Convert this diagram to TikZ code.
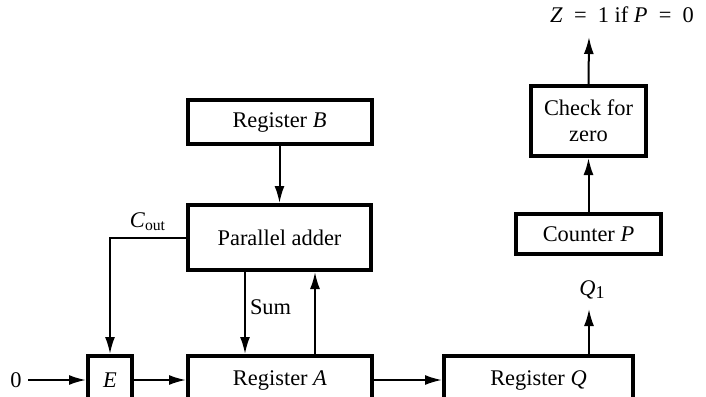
\documentclass[tikz,border=0pt]{standalone}
\usepackage{fontspec}
\setmainfont{Liberation Serif}
\usetikzlibrary{arrows.meta}

\begin{document}
\begin{tikzpicture}[
  x=0.5pt,y=-0.5pt,
  every node/.style={inner sep=1pt,font=\fontsize{11.2}{13}\selectfont},
  reg/.style={rectangle,draw=black,line width=2pt,inner sep=0pt,align=center},
  arr/.style={-{Latex[length=8.5pt,width=5pt]},line width=1pt},
  lbl/.style={inner sep=0pt}
]
\path[use as bounding box] (0,0) rectangle (706,396);
\clip (0,0) rectangle (706,396);
% ================= adder side =================
\node[reg,minimum width=92pt,minimum height=22pt] (regB) at (279.5,122) {Register \textit{B}};
\node[reg,minimum width=91.5pt,minimum height=32.5pt] (adder) at (279.5,237.5) {Parallel adder};
\node[reg,minimum width=92pt,minimum height=24pt] (regA) at (280,380) {Register \textit{A}};
\node[reg,minimum width=22pt,minimum height=24pt] (E) at (110,380) {\textit{E}};
\node[inner sep=3pt] (zero) at (16,380) {0};
\coordinate (xs) at (245,0);
\coordinate (xu) at (315,0);
\draw[arr] (regB) -- (adder);
\draw[arr] (adder.south -| xs) -- (regA.north -| xs) node[pos=0.43,right=1pt] {Sum};
\draw[arr] (regA.north -| xu) -- (adder.south -| xu);
\draw[arr] (adder.west) -| (E.north);
\node[lbl] (cout) at (148,222) {\textit{C}\textsubscript{out}};
\draw[arr] (zero) -- (E);
\draw[arr] (E) -- (regA);
% ================= counter side =================
\node[reg,minimum width=94.5pt,minimum height=24pt] (regQ) at (538.5,380) {Register \textit{Q}};
\node[reg,minimum width=72.5pt,minimum height=20pt] (cntP) at (588.5,234) {Counter \textit{P}};
\node[reg,minimum width=57.5pt,minimum height=35pt] (chk) at (588.5,121) {Check for\\zero};
\draw[arr] (regA) -- (regQ);
\coordinate (q1top) at (589,309);
\node[lbl] (q1) at (592,290) {\textit{Q}{\fontsize{9}{10}\selectfont\raisebox{-0.35ex}{1}}};
\draw[arr] (regQ.north -| q1top) -- (q1top);
\draw[arr] (cntP) -- (chk);
\coordinate (ztop) at (589,37);
\node[lbl] (zlbl) at (622,15) {\textit{Z}~~=~~1 if \textit{P}~~=~~0};
\draw[arr] (chk.north) -- (ztop);
\end{tikzpicture}
\end{document}
